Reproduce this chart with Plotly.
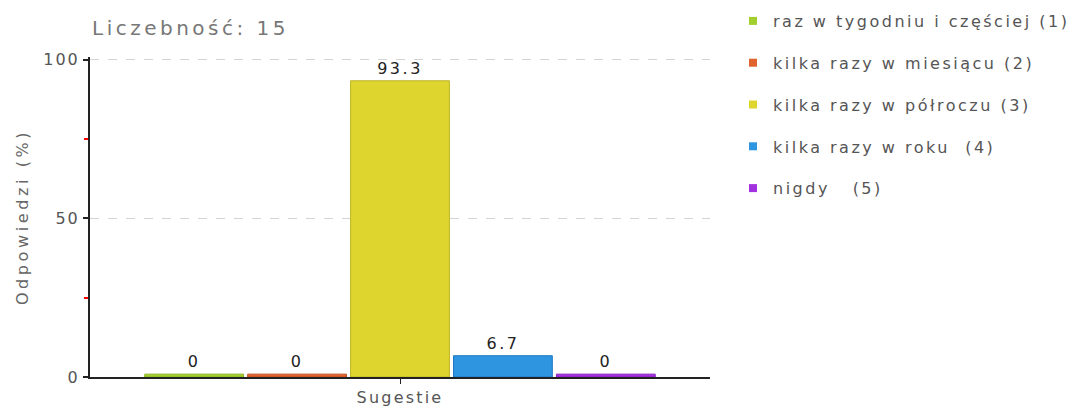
import plotly.graph_objects as go

categories = ["Sugestie"]
series_names = [
    "raz w tygodniu i częściej (1)",
    "kilka razy w miesiącu (2)",
    "kilka razy w półroczu (3)",
    "kilka razy w roku  (4)",
    "nigdy   (5)",
]
series_values = [0, 0, 93.3, 6.7, 0]
colors = ["#A3CF2E", "#E0622C", "#DED52F", "#2E96E0", "#A431DF"]
outlines = ["#8DB525", "#C34F20", "#BDB322", "#1C78C2", "#8A22C2"]
y_ticks = [0, 50, 100]
title_text = "Liczebność: 15"
y_title = "Odpowiedzi (%)"

MIN_BAR = 0.9  # minimal drawn height so zero bars remain visible as a thin line
FONT = "DejaVu Sans"


def spaced(s, px):
    return f'<span style="letter-spacing:{px}px">{s}</span>'


fig = go.Figure()
for name, v, c, oc in zip(series_names, series_values, colors, outlines):
    fig.add_trace(go.Bar(
        x=categories, y=[max(v, MIN_BAR)], name=name,
        marker=dict(color=c, line=dict(color=oc, width=1)),
        text=[spaced(f"{v:g}", 2.5)], textposition="outside", cliponaxis=False,
        textfont=dict(family=FONT, size=16, color="#222"),
        showlegend=False, hoverinfo="skip",
    ))
# legend entries
for i, (name, c) in enumerate(zip(series_names, colors)):
    fig.add_trace(go.Scatter(
        x=[None], y=[None], mode="markers", name=spaced(name, 2.5),
        marker=dict(symbol="square", size=8, color=c),
        legendgroup=f"g{i}", showlegend=True,
    ))

fig.update_layout(
    width=1073, height=407,
    margin=dict(l=90, r=363, t=57, b=30, autoexpand=False),
    paper_bgcolor="white", plot_bgcolor="white",
    barmode="group", bargap=0.17, bargroupgap=0.04,
    font=dict(family=FONT, color="#555"),
    title=dict(text=spaced(title_text, 3.5), x=92 / 1073, xref="container", xanchor="left",
               y=1 - 28 / 407, yanchor="middle", yref="container",
               font=dict(family=FONT, size=20, color="#777")),
    legend=dict(x=733 / 1073, xref="container", xanchor="left",
                y=1 - 4 / 407, yref="container", yanchor="top",
                font=dict(family=FONT, size=16, color="#555"),
                tracegroupgap=18, itemwidth=30, bgcolor="rgba(0,0,0,0)",
                maxheight=1.0),
    showlegend=True,
)
fig.update_xaxes(
    showline=True, linecolor="#222", linewidth=2, ticks="outside",
    tickcolor="#222", ticklen=5, tickwidth=1, showgrid=False,
    tickvals=categories, ticktext=[spaced(c, 2.2) for c in categories],
    tickfont=dict(family=FONT, size=16, color="#555"), fixedrange=True,
)
fig.update_yaxes(
    range=[0, 100.8], tickvals=y_ticks, ticktext=[spaced(str(t), 2) for t in y_ticks],
    showline=True, linecolor="#222", linewidth=2, ticks="outside",
    tickcolor="#222", ticklen=5, tickwidth=2, automargin=False,
    showgrid=True, gridcolor="#D4D4D4", griddash="dash", gridwidth=1,
    zeroline=False, fixedrange=True,
    tickfont=dict(family=FONT, size=16, color="#555"),
    title=dict(text=spaced(y_title, 3.6), font=dict(family=FONT, size=16, color="#666"), standoff=11),
    minor=dict(dtick=25, ticks="outside", ticklen=4, tickcolor="#FF0000", tickwidth=2, showgrid=False),
)

fig.write_html("out.html", config={"displayModeBar": False},
               post_script="document.body.style.margin='0';")
